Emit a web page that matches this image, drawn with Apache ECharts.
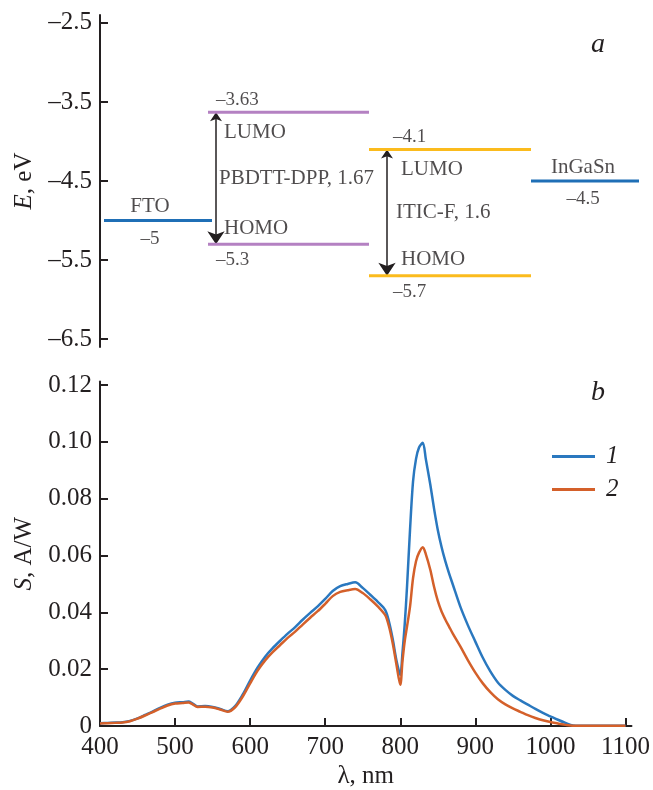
<!DOCTYPE html>
<html>
<head>
<meta charset="utf-8">
<script src="https://cdn.jsdelivr.net/npm/echarts@6/dist/echarts.min.js"></script>
<style>
  html, body { margin: 0; padding: 0; background: #fff; }
  #main { width: 653px; height: 790px; }
</style>
</head>
<body>
<div id="main"></div>
<script>
// --- panel a: energy levels (eV) ---
const layerNames = ['FTO', 'PBDTT-DPP', 'ITIC-F', 'InGaSn'];
const lumoLevels = [-5, -3.63, -4.1, -4.5];
const homoLevels = [null, -5.3, -5.7, null];
const bandGaps = [null, 1.67, 1.6, null];
const energyTicks = [-6.5, -5.5, -4.5, -3.5, -2.5];

// --- panel b: spectral sensitivity S (A/W) vs wavelength (nm) ---
const wavelength = [400, 410, 420, 430, 440, 450, 460, 470, 480, 490, 500, 510, 518, 523, 530, 540, 550, 560, 570, 580,
  590, 600, 610, 620, 630, 640, 650, 660, 670, 680, 690, 700, 710, 720, 730, 740, 750, 760, 770, 780,
  785, 790, 795, 800, 803, 806, 809, 813, 817, 821, 825, 830, 834, 840, 845, 850, 855, 860, 865, 870,
  880, 890, 900, 910, 920, 930, 940, 950, 960, 970, 980, 990, 1000, 1010, 1020, 1030, 1040, 1060, 1080, 1100];
const sens1 = [0.0010, 0.0011, 0.0012, 0.0013, 0.0018, 0.0027, 0.0039, 0.0051, 0.0064, 0.0075, 0.0082, 0.0084, 0.0086, 0.0080, 0.0069, 0.0070, 0.0067, 0.0060, 0.0052, 0.0070,
  0.0110, 0.0160, 0.0206, 0.0244, 0.0274, 0.0300, 0.0325, 0.0348, 0.0374, 0.0398, 0.0421, 0.0447, 0.0475, 0.0492, 0.0500, 0.0506, 0.0486, 0.0462, 0.0437, 0.0408,
  0.0367, 0.0305, 0.0230, 0.0180, 0.0260, 0.0360, 0.0490, 0.0690, 0.0860, 0.0940, 0.0980, 0.0997, 0.0940, 0.0850, 0.0765, 0.0690, 0.0630, 0.0580, 0.0537, 0.0498,
  0.0420, 0.0355, 0.0297, 0.0240, 0.0192, 0.0153, 0.0127, 0.0106, 0.0090, 0.0075, 0.0060, 0.0046, 0.0034, 0.0022, 0.0011, 0.0002, 0.0001, 0.0001, 0.0001, 0.0001];
const sens2 = [0.0009, 0.0010, 0.0011, 0.0012, 0.0017, 0.0026, 0.0037, 0.0049, 0.0061, 0.0072, 0.0079, 0.0081, 0.0083, 0.0077, 0.0067, 0.0068, 0.0065, 0.0058, 0.0050, 0.0066,
  0.0103, 0.0150, 0.0195, 0.0231, 0.0260, 0.0285, 0.0310, 0.0332, 0.0357, 0.0381, 0.0404, 0.0430, 0.0457, 0.0472, 0.0478, 0.0482, 0.0468, 0.0446, 0.0421, 0.0390,
  0.0350, 0.0290, 0.0215, 0.0145, 0.0230, 0.0300, 0.0350, 0.0420, 0.0520, 0.0580, 0.0610, 0.0629, 0.0605, 0.0550, 0.0490, 0.0440, 0.0403, 0.0375, 0.0350, 0.0325,
  0.0280, 0.0232, 0.0188, 0.0150, 0.0119, 0.0094, 0.0076, 0.0062, 0.0050, 0.0038, 0.0028, 0.0020, 0.0014, 0.0009, 0.0004, 0.0001, 0.0001, 0.0001, 0.0001, 0.0001];
const waveTicks = [400, 500, 600, 700, 800, 900, 1000, 1100];
const sensTicks = [0, 0.02, 0.04, 0.06, 0.08, 0.10, 0.12];

const FONT = 'Liberation Serif';
const INK = '#231f20';
const levelColors = ['#1f6fb6', '#b481c2', '#fbbb1d', '#1f6fb6'];
// horizontal placement of each level (px from the left of panel a)
const colSpan = [[4, 112], [108, 269], [269, 431], [431, 539]];
const labelX = [50, 116, 293, 483];
const arrowX = [null, 116, 287, null];

const dash = v => String(v).replace('-', '\u2013');

let levelSeries = [];
let labelItems = [];
let arrowData = [];

function txt(x, e, text, dy, size, align) {
  return {
    value: [x, e],
    label: { formatter: text, offset: [0, dy], fontSize: size, align: align }
  };
}

layerNames.forEach((name, i) => {
  const [x0, x1] = colSpan[i];
  levelSeries.push({
    type: 'line', xAxisIndex: 0, yAxisIndex: 0, symbol: 'none', silent: true,
    data: [[x0, lumoLevels[i]], [x1, lumoLevels[i]]],
    lineStyle: { color: levelColors[i], width: 3 }
  });
  if (homoLevels[i] == null) {
    labelItems.push(txt(labelX[i], lumoLevels[i], name, -14, 21, 'center'));
    labelItems.push(txt(labelX[i], lumoLevels[i], dash(lumoLevels[i]), 18, 19, 'center'));
  } else {
    levelSeries.push({
      type: 'line', xAxisIndex: 0, yAxisIndex: 0, symbol: 'none', silent: true,
      data: [[x0, homoLevels[i]], [x1, homoLevels[i]]],
      lineStyle: { color: levelColors[i], width: 3 }
    });
    const mid = (lumoLevels[i] + homoLevels[i]) / 2;
    labelItems.push(txt(labelX[i], lumoLevels[i], dash(lumoLevels[i]), -12, 19, 'left'));
    labelItems.push(txt(labelX[i] + 8, lumoLevels[i], 'LUMO', 20, 21, 'left'));
    labelItems.push(txt(labelX[i] + 3, mid, name + ', ' + bandGaps[i], 0, 21, 'left'));
    labelItems.push(txt(labelX[i] + 8, homoLevels[i], 'HOMO', -16, 21, 'left'));
    labelItems.push(txt(labelX[i], homoLevels[i], dash(homoLevels[i]), 16, 19, 'left'));
    arrowData.push({ coords: [[arrowX[i], lumoLevels[i]], [arrowX[i], homoLevels[i]]] });
  }
});

const axisText = { fontFamily: FONT, fontSize: 25, color: INK };
const axisLine = { show: true, lineStyle: { color: INK, width: 2 } };

let chart = echarts.init(document.getElementById('main'));
chart.setOption({
  animation: false,
  textStyle: { fontFamily: FONT, color: INK },
  grid: [
    { left: 100, top: 15, width: 540, height: 332 },
    { left: 100, top: 381.6, width: 532.2, height: 344.4 }
  ],
  xAxis: [
    { gridIndex: 0, type: 'value', min: 0, max: 540, show: false },
    {
      gridIndex: 1, type: 'value', min: 400, max: 1108,
      name: '\u03bb, nm', nameLocation: 'middle', nameGap: 38,
      nameTextStyle: axisText,
      axisLine: axisLine,
      axisTick: { inside: true, length: 8, lineStyle: { color: INK, width: 2 }, customValues: waveTicks },
      axisLabel: Object.assign({ margin: 9, customValues: waveTicks, formatter: v => String(v) }, axisText),
      splitLine: { show: false }
    }
  ],
  yAxis: [
    {
      gridIndex: 0, type: 'value', min: -6.6, max: -2.4,
      name: '{i|E}, eV', nameLocation: 'middle', nameGap: 62,
      nameTextStyle: Object.assign({ rich: { i: Object.assign({ fontStyle: 'italic' }, axisText) } }, axisText),
      axisLine: axisLine,
      axisTick: { inside: true, length: 8, lineStyle: { color: INK, width: 2 }, customValues: energyTicks },
      axisLabel: Object.assign({ margin: 8, customValues: energyTicks, formatter: v => dash(v.toFixed(1)) }, axisText),
      splitLine: { show: false }
    },
    {
      gridIndex: 1, type: 'value', min: 0, max: 0.1212,
      name: '{i|S}, A/W', nameLocation: 'middle', nameGap: 62,
      nameTextStyle: Object.assign({ rich: { i: Object.assign({ fontStyle: 'italic' }, axisText) } }, axisText),
      axisLine: axisLine,
      axisTick: { inside: true, length: 8, lineStyle: { color: INK, width: 2 }, customValues: sensTicks },
      axisLabel: Object.assign({ margin: 8, customValues: sensTicks, formatter: v => v === 0 ? '0' : v.toFixed(2) }, axisText),
      splitLine: { show: false }
    }
  ],
  legend: {
    data: ['1', '2'], orient: 'vertical', left: 552, top: 444, padding: 0,
    icon: 'rect', itemWidth: 43, itemHeight: 3, itemGap: 8,
    textStyle: { fontFamily: FONT, fontSize: 25, fontStyle: 'italic', color: INK, lineHeight: 24, padding: [0, 0, 0, 6] }
  },
  graphic: [
    { type: 'text', x: 598, y: 45, style: { text: 'a', font: 'italic 28px "Liberation Serif"', fill: INK, align: 'center', verticalAlign: 'middle' } },
    { type: 'text', x: 598, y: 393, style: { text: 'b', font: 'italic 28px "Liberation Serif"', fill: INK, align: 'center', verticalAlign: 'middle' } }
  ],
  series: levelSeries.concat([
    {
      type: 'lines', coordinateSystem: 'cartesian2d', xAxisIndex: 0, yAxisIndex: 0,
      data: arrowData, symbol: ['arrow', 'arrow'], symbolSize: [9, 13], symbolOffset: [0, 6],
      lineStyle: { color: INK, width: 1.5, opacity: 1 }, silent: true
    },
    {
      type: 'scatter', xAxisIndex: 0, yAxisIndex: 0, symbolSize: 0, silent: true,
      data: labelItems,
      label: { show: true, position: 'inside', distance: 0, color: INK, fontFamily: FONT, verticalAlign: 'middle' }
    },
    {
      name: '1', type: 'line', xAxisIndex: 1, yAxisIndex: 1, symbol: 'none', smooth: 0.3,
      data: wavelength.map((w, k) => [w, sens1[k]]),
      lineStyle: { color: '#2a78bf', width: 2.5 }, itemStyle: { color: '#2a78bf' }
    },
    {
      name: '2', type: 'line', xAxisIndex: 1, yAxisIndex: 1, symbol: 'none', smooth: 0.3,
      data: wavelength.map((w, k) => [w, sens2[k]]),
      lineStyle: { color: '#d4602a', width: 2.5 }, itemStyle: { color: '#d4602a' }
    }
  ])
});
</script>
</body>
</html>
